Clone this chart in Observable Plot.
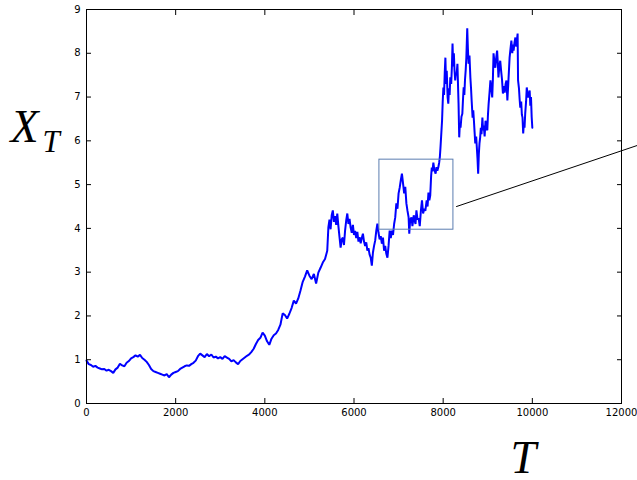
<!DOCTYPE html>
<html>
<head>
<meta charset="utf-8">
<script src="https://cdn.jsdelivr.net/npm/d3@7"></script>
<script src="https://cdn.jsdelivr.net/npm/@observablehq/plot@0.6"></script>
<style>
  body { margin: 0; background: #fff; }
  #chart svg { display: block; }
</style>
</head>
<body>
<div id="chart"></div>
<script>
const tEarly = [0,50,100,150,200,250,300,350,400,450,500,550,600,650,700,750,800,850,900,950,
  1000,1050,1100,1150,1200,1250,1300,1350,1400,1450,1500,1550,1600,1650,1700,1750,1800,1850,1900,1950,
  2000,2050,2100,2150,2200,2250,2300,2350,2400,2450,2500,2550,2600,2650,2700,2750,2800,2850,2900,2950,
  3000,3050,3100,3150,3200,3250,3300,3350,3400,3450,3500,3550,3600,3650,3700,3750,3800,3850,3900,3950,
  4000,4050,4100,4150,4200,4250,4300,4350,4400,4450,4500,4550,4600,4650,4700,4750,4800,4850,4900,4950,
  5000,5050,5100,5150,5200,5250,5300,5350];
const xEarly = [0.98,0.90,0.88,0.84,0.86,0.82,0.80,0.78,0.79,0.75,0.77,0.74,0.70,0.78,0.82,0.91,0.87,0.85,0.93,0.97,
  1.03,1.06,1.10,1.07,1.11,1.04,1.00,0.95,0.88,0.79,0.74,0.72,0.70,0.68,0.66,0.64,0.67,0.60,0.66,0.70,
  0.72,0.74,0.79,0.82,0.85,0.87,0.86,0.90,0.93,0.98,1.08,1.14,1.10,1.06,1.13,1.08,1.12,1.05,1.07,1.03,
  1.06,1.02,1.08,1.05,1.02,0.96,0.99,0.94,0.90,0.97,1.01,1.05,1.09,1.12,1.18,1.25,1.36,1.45,1.50,1.62,
  1.55,1.42,1.34,1.48,1.56,1.60,1.68,1.80,2.06,2.02,1.94,2.05,2.18,2.35,2.28,2.40,2.58,2.78,2.90,3.04,
  2.92,2.84,2.96,2.74,2.99,3.10,3.22,3.30];
const tLate = [5400,5425,5450,5475,5500,5525,5550,5575,5600,5625,5650,5675,5700,5725,5750,5775,5800,5825,5850,5875,
  5900,5925,5950,5975,6000,6025,6050,6075,6100,6125,6150,6175,6200,6225,6250,6275,6300,6325,6350,6375,
  6400,6425,6450,6475,6500,6525,6550,6575,6600,6625,6650,6675,6700,6725,6750,6775,6800,6825,6850,6875,
  6900,6925,6950,6975,7000,7025,7050,7075,7100,7125,7150,7175,7200,7225,7240,7260,7290,7310,7340,7360,
  7380,7400,7425,7450,7475,7500,7525,7550,7575,7600,7630,7650,7670,7690,7710,7730,7745,7760,7780,7800,
  7830,7850,7870,7890,7910,7925,7940,7960,7975,7990,8005,8020,8035,8050,8065,8080,8100,8115,8130,8145,
  8160,8180,8195,8210,8225,8240,8255,8270,8285,8300,8320,8335,8345,8360,8375,8390,8410,8430,8445,8460,
  8475,8490,8505,8520,8540,8555,8570,8590,8610,8625,8640,8660,8675,8690,8705,8720,8740,8755,8770,8785,
  8800,8815,8830,8845,8860,8880,8895,8910,8930,8950,8970,8990,9005,9020,9040,9060,9080,9100,9115,9130,
  9150,9170,9190,9210,9225,9240,9260,9280,9300,9320,9340,9360,9380,9400,9420,9440,9460,9475,9490,9510,
  9530,9550,9565,9580,9600,9620,9640,9655,9670,9680,9700,9715,9730,9750,9765,9780,9795,9810,9825,9840,
  9860,9875,9890,9905,9920,9940,9955,9970,9985,10000];
const xLate = [3.49,4.02,4.20,3.98,4.30,4.41,4.15,4.28,4.08,4.34,4.05,3.80,3.56,3.75,3.79,3.62,3.95,4.18,4.34,4.10,
  4.22,4.02,3.90,4.08,3.85,3.94,3.78,3.92,3.70,3.80,3.66,3.78,3.88,3.70,3.60,3.68,3.49,3.55,3.40,3.33,
  3.15,3.45,3.60,3.72,3.95,4.11,3.90,3.75,3.82,3.65,3.79,3.49,3.60,3.42,3.33,3.60,3.95,3.78,3.95,3.85,
  4.10,4.25,4.57,4.45,4.80,4.93,5.10,5.25,5.03,4.80,4.95,4.57,4.40,4.25,3.88,4.20,4.25,4.05,4.30,4.18,
  4.10,4.41,4.20,4.23,4.05,4.40,4.64,4.34,4.45,4.40,4.64,4.50,4.82,4.64,4.75,5.20,5.39,5.30,5.50,5.35,
  5.25,5.40,5.32,5.39,5.50,5.62,5.85,6.20,6.46,6.90,7.22,7.05,7.55,7.90,7.30,7.60,6.99,6.85,7.20,7.05,
  7.45,7.30,7.67,8.22,7.70,8.00,7.60,7.38,7.55,7.50,7.76,7.20,6.85,6.08,6.40,6.30,6.55,6.62,6.95,7.22,
  7.05,7.40,7.61,7.90,8.57,8.10,7.76,7.95,7.45,7.20,6.90,6.53,6.70,6.46,6.20,5.94,6.10,5.85,5.60,5.25,
  5.70,5.95,6.08,6.30,6.15,6.53,6.24,6.35,6.10,6.46,6.30,6.24,6.60,6.85,7.10,7.38,7.20,6.99,7.40,8.00,
  7.80,7.67,7.90,8.06,7.80,7.45,7.70,7.83,7.60,7.40,7.08,7.25,7.10,7.30,7.38,6.92,7.30,7.60,7.90,8.10,
  8.29,8.00,8.20,8.06,8.25,8.36,8.15,8.30,8.45,7.38,7.20,6.95,6.76,6.90,6.60,6.53,6.17,6.40,6.30,6.62,
  6.90,7.22,7.10,6.99,7.05,7.15,6.80,7.00,6.55,6.30];

// Zoom box and pointer line
const boxT = [6570, 8230];
const boxX = [3.97, 5.57];
const pointerT = [8300, 12370];
const pointerX = [4.50, 5.90];

const xTicks = [0, 2000, 4000, 6000, 8000, 10000, 12000];
const yTicks = [0, 1, 2, 3, 4, 5, 6, 7, 8, 9];

const path = tEarly.map((t, i) => ({t, x: xEarly[i]}))
  .concat(tLate.map((t, i) => ({t, x: xLate[i]})));
const box = [{t1: boxT[0], t2: boxT[1], x1: boxX[0], x2: boxX[1]}];
const pointer = pointerT.map((t, i) => ({t, x: pointerX[i]}));

const tickFont = {fontFamily: "DejaVu Sans", fontSize: 10};

const plot = Plot.plot({
  width: 637,
  height: 480,
  marginLeft: 86,
  marginRight: 16,
  marginTop: 9,
  marginBottom: 77,
  style: {fontFamily: "DejaVu Sans", fontSize: "10px", color: "black", background: "white", overflow: "visible"},
  x: {domain: [0, 12000], ticks: xTicks},
  y: {domain: [0, 9], ticks: yTicks},
  marks: [
    Plot.line(path, {x: "t", y: "x", stroke: "#0000ff", strokeWidth: 2, strokeLinejoin: "miter"}),
    Plot.rect(box, {x1: "t1", x2: "t2", y1: "x1", y2: "x2", fill: "none", stroke: "#5b7db0", strokeWidth: 1}),
    Plot.line(pointer, {x: "t", y: "x", stroke: "black", strokeWidth: 1}),
    Plot.frame({stroke: "black", strokeWidth: 1}),
    Plot.axisX({anchor: "bottom", ticks: xTicks, tickSize: -5, tickPadding: 10, tickFormat: d => String(d), label: null, ...tickFont}),
    Plot.axisX({anchor: "top", ticks: xTicks, tickSize: -5, tickFormat: () => "", label: null}),
    Plot.axisY({anchor: "left", ticks: yTicks, tickSize: -5, tickPadding: 11, tickFormat: d => String(d), label: null, ...tickFont}),
    Plot.axisY({anchor: "right", ticks: yTicks, tickSize: -5, tickFormat: () => "", label: null}),
    Plot.text(["X"], {frameAnchor: "top-left", dx: -76, dy: 100, text: d => d, fontFamily: "Liberation Serif", fontStyle: "italic", fontSize: 46, textAnchor: "start", lineAnchor: "top"}),
    Plot.text(["T"], {frameAnchor: "top-left", dx: -44, dy: 120, text: d => d, fontFamily: "Liberation Serif", fontStyle: "italic", fontSize: 31, textAnchor: "start", lineAnchor: "top"}),
    Plot.text(["T"], {frameAnchor: "bottom-left", dx: 424, dy: 37, text: d => d, fontFamily: "Liberation Serif", fontStyle: "italic", fontSize: 46, textAnchor: "start", lineAnchor: "top"})
  ]
});
document.getElementById("chart").appendChild(plot);
</script>
</body>
</html>
